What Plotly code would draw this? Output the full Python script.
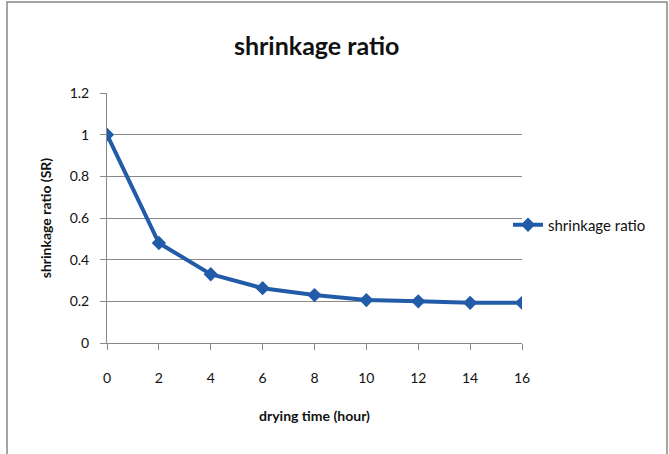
import plotly.graph_objects as go

# drying time (hours) and measured shrinkage ratio
drying_time = [0, 2, 4, 6, 8, 10, 12, 14, 16]
shrinkage_ratio = [1.0, 0.48, 0.33, 0.263, 0.23, 0.206, 0.2, 0.193, 0.193]
x_ticks = [0, 2, 4, 6, 8, 10, 12, 14, 16]
y_ticks = [0, 0.2, 0.4, 0.6, 0.8, 1, 1.2]

W, H = 669, 454
L, R, T, B = 107, 147, 93, 111
pw, ph = W - L - R, H - T - B

def px_x(px):
    return (px - L) / pw

def px_y(py):
    return (H - B - py) / ph

FONT = "Lato, Open Sans, sans-serif"
BLUE = "#225ca8"

fig = go.Figure()
fig.add_trace(go.Scatter(
    x=drying_time, y=shrinkage_ratio, mode="lines+markers",
    name="shrinkage ratio",
    line=dict(color=BLUE, width=4),
    marker=dict(symbol="diamond", size=11, color=BLUE),
))

fig.update_layout(
    width=W, height=H,
    margin=dict(l=L, r=R, t=T, b=B),
    paper_bgcolor="white", plot_bgcolor="white",
    font=dict(family=FONT, size=14, color="#111"),
    title=dict(text="<b>shrinkage ratio</b>", x=(338) / W, xanchor="center",
               y=1 - 46 / H, yanchor="middle", xref="paper",
               font=dict(family=FONT, size=25, color="#111")),
    showlegend=True,
    legend=dict(x=px_x(508), y=px_y(225), xanchor="left", yanchor="middle",
                bgcolor="rgba(0,0,0,0)", font=dict(size=15), itemwidth=30),
    xaxis=dict(range=[0, 16], tickvals=x_ticks, showgrid=False,
               showline=True, linecolor="#888", linewidth=1,
               ticks="outside", ticklen=6, tickcolor="#888",
               ticklabelstandoff=16, zeroline=False,
               title=dict(text="<b>drying time (hour)</b>", standoff=26,
                          font=dict(size=14))),
    yaxis=dict(range=[0, 1.2], tickvals=y_ticks, showgrid=True,
               gridcolor="#888", gridwidth=1,
               showline=True, linecolor="#888", linewidth=1,
               ticks="outside", ticklen=6, tickcolor="#888",
               ticklabelstandoff=8, zeroline=False,
               title=dict(text="<b>shrinkage ratio (SR)</b>", standoff=14,
                          font=dict(size=14))),
)

# outer chart frame
fig.add_shape(type="rect", xref="paper", yref="paper",
              x0=px_x(7), x1=px_x(667), y0=px_y(470), y1=px_y(2),
              line=dict(color="#888", width=1.5), layer="below")

fig.write_html("out.html")
